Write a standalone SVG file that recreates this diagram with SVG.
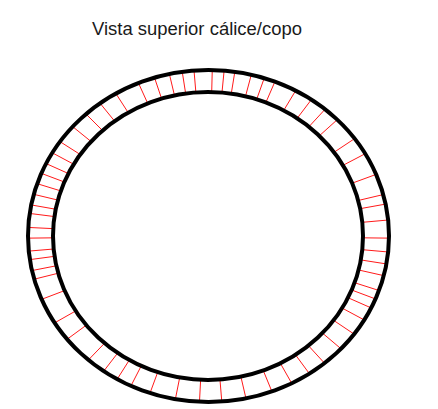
<svg xmlns="http://www.w3.org/2000/svg" width="438" height="409" viewBox="0 0 438 409">
<style>
.title{font-family:"Liberation Sans",Arial,sans-serif;font-size:17.5px;fill:#1a1a1a}
.rim{fill:none;stroke:#000;stroke-width:4}
.tick{stroke:#ff1a1a;stroke-width:1}
</style>
<defs>
<clipPath id="ring">
<path clip-rule="evenodd" d="M28,236 A180.5,166 0 1,0 389,236 A180.5,166 0 1,0 28,236 Z M53,236 A155,144 0 1,0 363,236 A155,144 0 1,0 53,236 Z"/>
</clipPath>
</defs>
<rect width="438" height="409" fill="#fff"/>
<text class="title" x="92" y="35" textLength="210" lengthAdjust="spacingAndGlyphs">Vista superior cálice/copo</text>
<g id="ticks" class="tick" clip-path="url(#ring)">
<path d="M208 236L213.6 17.6M208 236L229 20.4M208 236L243 21.8M208 236L264 27.4M208 236L280.8 31.6M208 236L294.8 35.8M208 236L322.8 45.6M208 236L343.8 56.8M208 236L360.6 70.8M208 236L376 84.8M208 236L399.8 108.6M208 236L416.6 126.8M208 236L433.4 153.4M208 236L439 181.4M208 236L441.8 194M208 236L444.6 215M208 236L444.6 238.8M208 236L444.6 257M208 236L440.4 272.4M208 236L437.6 287.8M208 236L432 307.4M208 236L427.8 318.6M208 236L420.8 329.8M208 236L413.8 346.6M208 236L399.8 364.8M208 236L383 384.4M208 236L360.6 402.6M208 236L341 416.6M208 236L318.6 430.6M208 236L292 440.4M208 236L258.4 451.6M208 236L226.2 454.4M208 236L196.8 454.4M208 236L164.6 453M208 236L131 444.6M208 236L105.8 434.8M208 236L89 423.6M208 236L70.8 413.8M208 236L54 395.6M208 236L24.6 370.4M208 236L7.8 349.4M208 236L-9 318.6M208 236L-17.4 292M208 236L-20.2 280.8M208 236L-24.4 266.8M208 236L-24.4 255.6M208 236L-27.2 238.8M208 236L-27.2 224.8M208 236L-24.4 206.6M208 236L-23 195.4M208 236L-20.2 181.4M208 236L-16 167.4M208 236L-11.8 153.4M208 236L-4.8 140.8M208 236L3.6 126.8M208 236L14.8 112.8M208 236L33 94.6M208 236L49.8 77.8M208 236L68 63.8M208 236L87.6 49.8M208 236L117 35.8M208 236L138 28.8M208 236L157.6 24.6M208 236L174.4 21.8M208 236L189.8 20.4" fill="none"/>
</g>
<ellipse id="outer-rim" class="rim" cx="208.5" cy="236" rx="180.5" ry="166"/>
<ellipse id="inner-rim" class="rim" cx="208" cy="236" rx="155" ry="144"/>
</svg>
